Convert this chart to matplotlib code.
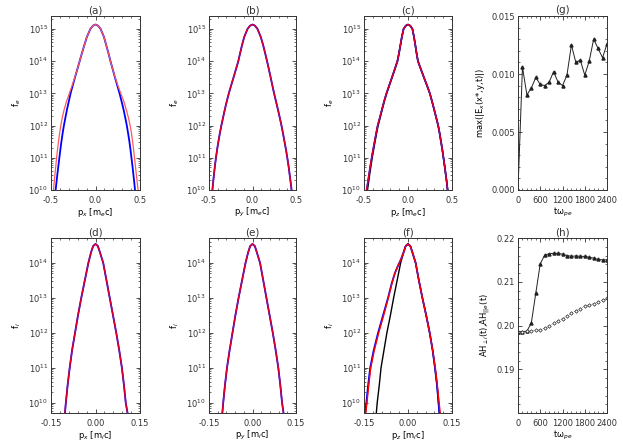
import numpy as np
import matplotlib
matplotlib.use("Agg")
import matplotlib.pyplot as plt
from matplotlib.ticker import MultipleLocator

# ---- electron distributions: p where log10(f) crosses each level ----
lev_e = [15.135, 15.1, 15.0, 14.75, 14.5, 14.25, 14.0, 13.75, 13.5, 13.25, 13.0,
         12.75, 12.5, 12.25, 12.0, 11.75, 11.5, 11.25, 11.0, 10.75, 10.5, 10.25, 10.0]

a_blue_left = [0.0, -0.028, -0.057, -0.097, -0.125, -0.152, -0.178, -0.204, -0.23,
               -0.255, -0.28, -0.30, -0.32, -0.338, -0.355, -0.37, -0.383, -0.395,
               -0.406, -0.417, -0.428, -0.438, -0.448]
a_blue_right = [0.0, 0.028, 0.057, 0.095, 0.12, 0.145, 0.168, 0.193, 0.218, 0.244,
                0.27, 0.293, 0.315, 0.334, 0.352, 0.367, 0.381, 0.393, 0.404, 0.415,
                0.425, 0.435, 0.444]
a_red_left = [0.0, -0.028, -0.057, -0.097, -0.125, -0.152, -0.178, -0.204, -0.232,
              -0.262, -0.294, -0.325, -0.352, -0.373, -0.39, -0.404, -0.416, -0.427,
              -0.437, -0.446, -0.455, -0.464, -0.472]
a_red_right = [0.0, 0.028, 0.057, 0.095, 0.12, 0.145, 0.168, 0.193, 0.22, 0.25,
               0.284, 0.318, 0.345, 0.369, 0.389, 0.405, 0.417, 0.428, 0.438, 0.448,
               0.458, 0.468, 0.478]

b_left = [0.0, -0.028, -0.057, -0.095, -0.12, -0.142, -0.163, -0.19, -0.217, -0.245,
          -0.272, -0.296, -0.318, -0.338, -0.358, -0.376, -0.392, -0.407, -0.42,
          -0.432, -0.442, -0.452, -0.461]
b_right = [0.0, 0.028, 0.057, 0.095, 0.122, 0.145, 0.167, 0.188, 0.208, 0.228, 0.248,
           0.27, 0.292, 0.313, 0.333, 0.351, 0.368, 0.385, 0.40, 0.414, 0.426, 0.438,
           0.449]

c_left = [0.0, -0.025, -0.05, -0.07, -0.086, -0.102, -0.12, -0.15, -0.181, -0.213,
          -0.245, -0.272, -0.296, -0.32, -0.345, -0.363, -0.38, -0.397, -0.413,
          -0.428, -0.442, -0.456, -0.47]
c_right = [0.0, 0.025, 0.05, 0.068, 0.083, 0.097, 0.113, 0.146, 0.18, 0.215, 0.248,
           0.273, 0.297, 0.32, 0.343, 0.36, 0.375, 0.39, 0.403, 0.416, 0.428, 0.44,
           0.45]
c_black_left = [0.0, -0.025, -0.05, -0.07, -0.086, -0.102, -0.12, -0.15, -0.181,
                -0.212, -0.243, -0.27, -0.294, -0.317, -0.341, -0.359, -0.376, -0.392,
                -0.408, -0.422, -0.436, -0.449, -0.462]

# ---- ion distributions ----
lev_i = [14.54, 14.48, 14.3, 14.0, 13.5, 13.0, 12.5, 12.0, 11.5, 11.0, 10.5, 10.0, 9.71]

d_left = [0.0, -0.008, -0.015, -0.024, -0.036, -0.048, -0.059, -0.069, -0.079, -0.087,
          -0.094, -0.1, -0.103]
d_right = [0.0, 0.008, 0.015, 0.026, 0.037, 0.048, 0.059, 0.07, 0.08, 0.089, 0.096,
           0.102, 0.108]
e_left = [0.0, -0.008, -0.015, -0.024, -0.036, -0.048, -0.059, -0.069, -0.079, -0.088,
          -0.095, -0.101, -0.104]
e_right = [0.0, 0.008, 0.015, 0.026, 0.037, 0.048, 0.059, 0.07, 0.08, 0.089, 0.096,
           0.102, 0.107]

# (f) left wing of red/blue has a shoulder, so its own levels
lev_f_wing = [14.54, 14.48, 14.3, 14.1, 13.9, 13.7, 13.4, 13.0, 12.5, 12.0, 11.5, 11.0,
              10.5, 10.0, 9.71]
f_red_left = [0.0, -0.008, -0.015, -0.024, -0.035, -0.045, -0.055, -0.067, -0.083,
              -0.1, -0.115, -0.127, -0.134, -0.14, -0.144]
f_blue_left = [0.0, -0.008, -0.015, -0.024, -0.035, -0.045, -0.056, -0.068, -0.085,
               -0.102, -0.117, -0.129, -0.136, -0.142, -0.146]
f_black_left = [0.0, -0.008, -0.015, -0.025, -0.037, -0.049, -0.06, -0.072, -0.082,
                -0.092, -0.098, -0.105, -0.108]
f_red_right = [0.0, 0.008, 0.015, 0.026, 0.037, 0.049, 0.062, 0.074, 0.084, 0.093,
               0.1, 0.106, 0.11]
f_blue_right = [0.0, 0.008, 0.015, 0.026, 0.037, 0.049, 0.062, 0.074, 0.084, 0.092,
                0.099, 0.104, 0.107]
f_black_right = [0.0, 0.008, 0.015, 0.026, 0.037, 0.049, 0.062, 0.074, 0.084, 0.092,
                 0.099, 0.104, 0.107]

# ---- time series ----
t = [0, 120, 240, 360, 480, 600, 720, 840, 960, 1080, 1200, 1320, 1440, 1560, 1680,
     1800, 1920, 2040, 2160, 2280, 2400]
ex_max = [0.0, 0.0106, 0.0082, 0.0088, 0.0097, 0.0091, 0.0090, 0.0093, 0.0102, 0.0093,
          0.0090, 0.0099, 0.0125, 0.0110, 0.0112, 0.0099, 0.0111, 0.0130, 0.0122,
          0.0114, 0.0126]
ah_perp = [0.1986, 0.1986, 0.1987, 0.2006, 0.2074, 0.2141, 0.2161, 0.2164, 0.2165,
           0.2165, 0.2163, 0.2160, 0.2158, 0.2159, 0.2158, 0.2158, 0.2156, 0.2154,
           0.2151, 0.2150, 0.2150]
ah_par = [0.1986, 0.1986, 0.1987, 0.1988, 0.1989, 0.1990, 0.1994, 0.1998, 0.2005,
          0.2011, 0.2016, 0.2022, 0.2029, 0.2034, 0.2038, 0.2044, 0.2047, 0.2050,
          0.2054, 0.2058, 0.2062]

W, H = 623, 445
FG = "#333333"
plt.rcParams.update({"font.family": "DejaVu Sans", "font.size": 6,
                     "axes.edgecolor": FG, "text.color": FG,
                     "xtick.color": FG, "ytick.color": FG,
                     "axes.linewidth": 0.7})

fig = plt.figure(figsize=(W / 100, H / 100), dpi=100)


def make_ax(x0, x1, y0, y1):
    ax = fig.add_axes([x0 / W, 1 - y1 / H, (x1 - x0) / W, (y1 - y0) / H])
    ax.tick_params(which="both", direction="in", top=True, right=True, labelsize=6)
    ax.tick_params(axis="x", pad=4)
    ax.tick_params(axis="y", pad=2)
    ax.tick_params(which="major", length=3, width=0.6)
    ax.tick_params(which="minor", length=1.5, width=0.5)
    return ax


def dist_axis(ax, xlim, xticks, xticklabels, xlab, ylab, ylog, title):
    ax.set_yscale("log")
    ax.set_xlim(*xlim)
    ax.set_ylim(10 ** ylog[0], 10 ** ylog[1])
    ax.set_xticks(xticks)
    ax.set_xticklabels(xticklabels)
    ax.xaxis.set_minor_locator(MultipleLocator((xticks[1] - xticks[0]) / 5))
    ax.set_xlabel(xlab, labelpad=1)
    ax.set_ylabel(ylab, labelpad=4)
    ax.set_title(title, fontsize=7.5, pad=2)


def curve(ax, left, right, lev_l, lev_r, color, lw=1.0):
    p = list(left[::-1]) + list(right[1:])
    l = list(lev_l[::-1]) + list(lev_r[1:])
    ax.plot(p, 10 ** np.array(l), color=color, lw=lw)


cols = [(51, 140), (209, 296), (364, 452), (518, 607)]
top = (16, 190)
bot = (238, 413)

BLUE, RED, PINK, BLACK = "#0000ff", "#e0002a", "#ff5a5a", "#000000"
e_ticks, e_tl = [-0.5, 0.0, 0.5], ["-0.5", "0.0", "0.5"]
i_ticks, i_tl = [-0.15, 0.0, 0.15], ["-0.15", "0.00", "0.15"]

# (a)
ax = make_ax(*cols[0], *top)
curve(ax, a_blue_left, a_blue_right, lev_e, lev_e, BLUE, 1.3)
curve(ax, a_red_left, a_red_right, lev_e, lev_e, PINK, 0.9)
dist_axis(ax, (-0.5, 0.5), e_ticks, e_tl, "p$_x$ [m$_e$c]", "f$_e$", (10, 15.4), "(a)")

# (b)
ax = make_ax(*cols[1], *top)
curve(ax, b_left, b_right, lev_e, lev_e, BLUE, 1.3)
curve(ax, b_left, b_right, lev_e, lev_e, RED, 1.0)
dist_axis(ax, (-0.5, 0.5), e_ticks, e_tl, "p$_y$ [m$_e$c]", "f$_e$", (10, 15.4), "(b)")

# (c)
ax = make_ax(*cols[2], *top)
curve(ax, c_black_left, c_right, lev_e, lev_e, BLACK, 1.2)
curve(ax, c_left, c_right, lev_e, lev_e, BLUE, 1.2)
curve(ax, c_left, c_right, lev_e, lev_e, RED, 1.0)
dist_axis(ax, (-0.5, 0.5), e_ticks, e_tl, "p$_z$ [m$_e$c]", "f$_e$", (10, 15.4), "(c)")

# (d)
ax = make_ax(*cols[0], *bot)
curve(ax, d_left, d_right, lev_i, lev_i, BLUE, 1.3)
curve(ax, d_left, d_right, lev_i, lev_i, RED, 1.0)
dist_axis(ax, (-0.15, 0.15), i_ticks, i_tl, "p$_x$ [m$_i$c]", "f$_i$", (9.71, 14.71), "(d)")

# (e)
ax = make_ax(*cols[1], *bot)
curve(ax, e_left, e_right, lev_i, lev_i, BLUE, 1.3)
curve(ax, e_left, e_right, lev_i, lev_i, RED, 1.0)
dist_axis(ax, (-0.15, 0.15), i_ticks, i_tl, "p$_y$ [m$_i$c]", "f$_i$", (9.71, 14.71), "(e)")

# (f)
ax = make_ax(*cols[2], *bot)
curve(ax, f_black_left, f_black_right, lev_i, lev_i, BLACK, 1.0)
curve(ax, f_blue_left, f_blue_right, lev_f_wing, lev_i, BLUE, 1.3)
curve(ax, f_red_left, f_red_right, lev_f_wing, lev_i, "#ff0000", 1.0)
dist_axis(ax, (-0.15, 0.15), i_ticks, i_tl, "p$_z$ [m$_i$c]", "f$_i$", (9.71, 14.71), "(f)")

# (g)
ax = make_ax(*cols[3], *top)
ax.plot(t, ex_max, color="#222222", lw=0.7, marker="^", ms=2.2, mfc="#222222")
ax.set_xlim(0, 2400)
ax.set_ylim(0, 0.015)
ax.set_xticks([0, 600, 1200, 1800, 2400])
ax.set_yticks([0, 0.005, 0.010, 0.015])
ax.set_yticklabels(["0.000", "0.005", "0.010", "0.015"])
ax.xaxis.set_minor_locator(MultipleLocator(120))
ax.yaxis.set_minor_locator(MultipleLocator(0.001))
ax.set_xlabel("t\u03c9$_{pe}$", labelpad=1)
ax.set_ylabel("max(|E$_x$(x*,y,t)|)", labelpad=3)
ax.set_title("(g)", fontsize=7.5, pad=2)

# (h)
ax = make_ax(*cols[3], *bot)
ax.plot(t, ah_perp, color="#222222", lw=0.7, marker="^", ms=2.2, mfc="#222222")
ax.plot(t, ah_par, color="#555555", lw=0.5, ls=":", marker="D", ms=1.8,
        mfc="white", mec="#222222", mew=0.5)
ax.set_xlim(0, 2400)
ax.set_ylim(0.18, 0.22)
ax.set_xticks([0, 600, 1200, 1800, 2400])
ax.set_yticks([0.19, 0.20, 0.21, 0.22])
ax.set_yticklabels(["0.19", "0.20", "0.21", "0.22"])
ax.xaxis.set_minor_locator(MultipleLocator(120))
ax.yaxis.set_minor_locator(MultipleLocator(0.002))
ax.set_xlabel("t\u03c9$_{pe}$", labelpad=1)
ax.set_ylabel("AH$_{\\perp i}$(t),AH$_{||e}$(t)", labelpad=3)
ax.set_title("(h)", fontsize=7.5, pad=2)

fig.savefig("out.png", dpi=100)
